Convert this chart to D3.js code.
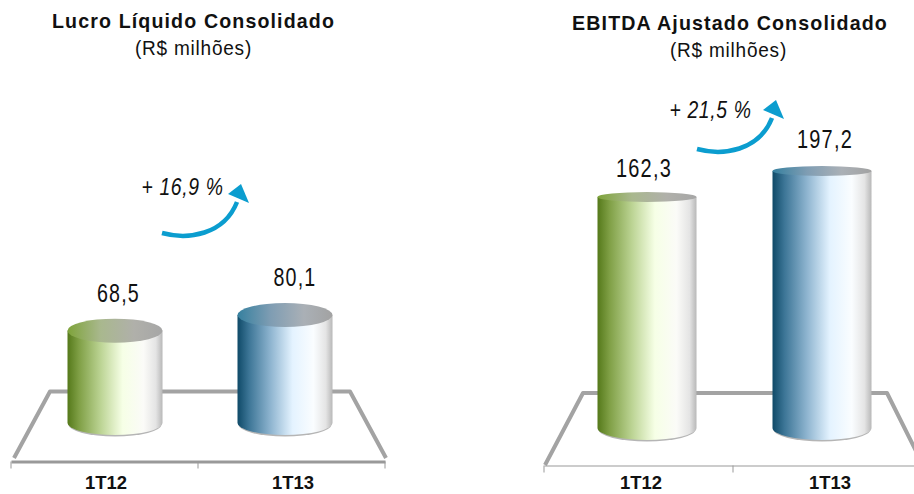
<!DOCTYPE html>
<html>
<head>
<meta charset="utf-8">
<title>Lucro Líquido e EBITDA Ajustado</title>
<script src="https://d3js.org/d3.v7.min.js"></script>
<style>
  html, body { margin: 0; padding: 0; background: #fff; overflow: hidden; }
  svg { display: block; }
  text { font-family: "Liberation Sans", sans-serif; fill: #111; }
</style>
</head>
<body>
<svg id="chart" width="914" height="494"></svg>
<script>
// data
const periods = ['1T12', '1T13'];
const lucroValues = [68.5, 80.1];
const ebitdaValues = [162.3, 197.2];
const lucroGrowth = '+ 16,9 %';
const ebitdaGrowth = '+ 21,5 %';

const svg = d3.select('#chart');
const defs = svg.append('defs');

const addGradient = (id, stops) => {
  defs.append('linearGradient').attr('id', id)
    .selectAll('stop').data(stops).enter().append('stop')
    .attr('offset', d => d[0]).attr('stop-color', d => d[1]);
};
addGradient('bodyGreen', [[0, '#55791a'], [0.12, '#7f9f45'], [0.35, '#bcd494'], [0.58, '#f6ffe6'], [0.8, '#fbfbf8'], [0.93, '#e4e4e4'], [1, '#b8b8b8']]);
addGradient('bodyBlue', [[0, '#0f4a68'], [0.12, '#3c7596'], [0.35, '#8fb5d0'], [0.58, '#e4f3ff'], [0.8, '#fafdff'], [0.93, '#e4e4e4'], [1, '#b8b8b8']]);
addGradient('topGreen', [[0, '#7ea33a'], [0.35, '#a9b88e'], [0.7, '#b0b0aa'], [1, '#a6a6a6']]);
addGradient('topBlue', [[0, '#36809f'], [0.35, '#7f9db3'], [0.7, '#aab0b6'], [1, '#a2a2a2']]);
defs.append('filter').attr('id', 'soft').append('feGaussianBlur').attr('stdDeviation', 0.6);

// the original face is narrow, so squeeze the glyphs to the width seen in the picture
const fit = (sel, w) => sel.attr('textLength', w).attr('lengthAdjust', 'spacingAndGlyphs');

const panel = cfg => {
  const g = svg.append('g');

  // title
  g.append('text').attr('x', cfg.titleX).attr('y', cfg.titleY).attr('text-anchor', 'middle')
    .attr('font-weight', 'bold').attr('font-size', 21).attr('letter-spacing', 1.2).text(cfg.title)
    .call(fit, cfg.titleW);
  g.append('text').attr('x', cfg.subX).attr('y', cfg.subY).attr('text-anchor', 'middle')
    .attr('font-size', 20).attr('letter-spacing', 0.8).text('(R$ milhões)')
    .call(fit, 117);

  // floor frame behind the bars
  g.append('path')
    .attr('d', d3.line()(cfg.floor))
    .attr('fill', 'none').attr('stroke', '#a3a3a3').attr('stroke-width', 4)
    .attr('stroke-linejoin', 'round').attr('filter', 'url(#soft)');

  // axis, ticks sit on the band edges, labels on the centres
  const x = d3.scaleBand().domain(periods).range(cfg.axisRange);
  const axis = g.append('g').attr('transform', `translate(0,${cfg.axisY})`)
    .call(d3.axisBottom(x).tickSize(0).tickPadding(cfg.labelPad));
  axis.select('.domain').attr('stroke', '#999').attr('stroke-width', cfg.axisWidth);
  axis.selectAll('.tick text')
    .attr('font-size', 19).attr('dx', cfg.labelDx)
    .style('font-family', '"Liberation Sans", sans-serif').style('fill', '#111').style('font-weight', 'bold')
    .call(fit, 42);
  g.append('g').selectAll('line').data([...periods.map(p => x(p)), cfg.axisRange[1]]).enter().append('line')
    .attr('x1', d => d).attr('x2', d => d)
    .attr('y1', cfg.axisY).attr('y2', cfg.axisY + 7)
    .attr('stroke', '#999').attr('stroke-width', 1);

  // cylinders
  const cx = d3.scalePoint().domain(periods).range(cfg.barRange);
  const y = d3.scaleLinear().domain(cfg.valueDomain).range(cfg.valueRange);
  const rx = cfg.barWidth / 2;
  const base = y(0);
  const rows = periods.map((p, i) => ({ p, v: cfg.values[i], grad: i === 0 ? 'Green' : 'Blue', i }));
  const bar = g.selectAll('.bar').data(rows).enter().append('g').attr('class', 'bar');

  // shadow under the bottom rim
  bar.append('ellipse')
    .attr('cx', d => cx(d.p)).attr('cy', base + 1.5)
    .attr('rx', rx - 1).attr('ry', cfg.baseRy)
    .attr('fill', '#b5b5b5').attr('filter', 'url(#soft)');
  bar.append('path')
    .attr('d', d => {
      const c = cx(d.p), t = y(d.v);
      return `M${c - rx},${t}L${c + rx},${t}L${c + rx},${base}A${rx},${cfg.baseRy} 0 0 1 ${c - rx},${base}Z`;
    })
    .attr('fill', d => `url(#body${d.grad})`);
  bar.append('ellipse')
    .attr('cx', d => cx(d.p)).attr('cy', d => y(d.v))
    .attr('rx', rx).attr('ry', cfg.topRy)
    .attr('fill', d => `url(#top${d.grad})`);
  bar.append('text')
    .attr('x', d => cx(d.p) + cfg.valueDx[d.i]).attr('y', d => y(d.v) - cfg.valueGap[d.i])
    .attr('text-anchor', 'middle').attr('font-size', 25).attr('letter-spacing', 1.5)
    .text(d => d3.format('.1f')(d.v).replace('.', ','))
    .call(fit, cfg.valueW);

  // growth arrow
  const arrow = g.append('g').attr('transform', `translate(${cfg.arrow[0]},${cfg.arrow[1]})`);
  arrow.append('path').attr('d', 'M0,0C26,7 62,2 75,-31')
    .attr('fill', 'none').attr('stroke', '#0b9dcf').attr('stroke-width', 4.5);
  arrow.append('path').attr('d', 'M66,-39L79,-49L87,-30Z').attr('fill', '#0b9dcf');
  arrow.append('text').attr('x', cfg.growthAt[0]).attr('y', cfg.growthAt[1]).attr('text-anchor', 'middle')
    .attr('font-size', 24).attr('font-style', 'italic').attr('letter-spacing', 0.8).text(cfg.growth)
    .call(fit, 82);
};

panel({
  title: 'Lucro Líquido Consolidado', titleX: 193.5, titleY: 28, titleW: 283,
  subX: 193.5, subY: 55,
  values: lucroValues, growth: lucroGrowth, growthAt: [20.5, -38],
  floor: [[14, 458], [50, 391.5], [350, 391.5], [386, 458]],
  axisRange: [11, 385], axisY: 461.5, axisWidth: 3, labelPad: 14, labelDx: 1.5,
  barRange: [115, 285], barWidth: 95, topRy: 12, baseRy: 12,
  valueDomain: [0, 80.1], valueRange: [423, 315], valueW: 43,
  valueGap: [29, 29], valueDx: [3.5, 10],
  arrow: [162, 233]
});

panel({
  title: 'EBITDA Ajustado Consolidado', titleX: 730, titleY: 30, titleW: 316,
  subX: 728.5, subY: 57,
  values: ebitdaValues, growth: ebitdaGrowth, growthAt: [13.5, -31],
  floor: [[545, 465], [583, 393], [887, 393], [922, 463]],
  axisRange: [544, 922], axisY: 465.5, axisWidth: 1, labelPad: 10, labelDx: 2.5,
  barRange: [647, 822], barWidth: 99, topRy: 5, baseRy: 12,
  valueDomain: [0, 162.3, 197.2], valueRange: [428, 197, 171], valueW: 56,
  valueGap: [20, 23], valueDx: [-3, 3],
  arrow: [697, 149]
});
</script>
</body>
</html>
